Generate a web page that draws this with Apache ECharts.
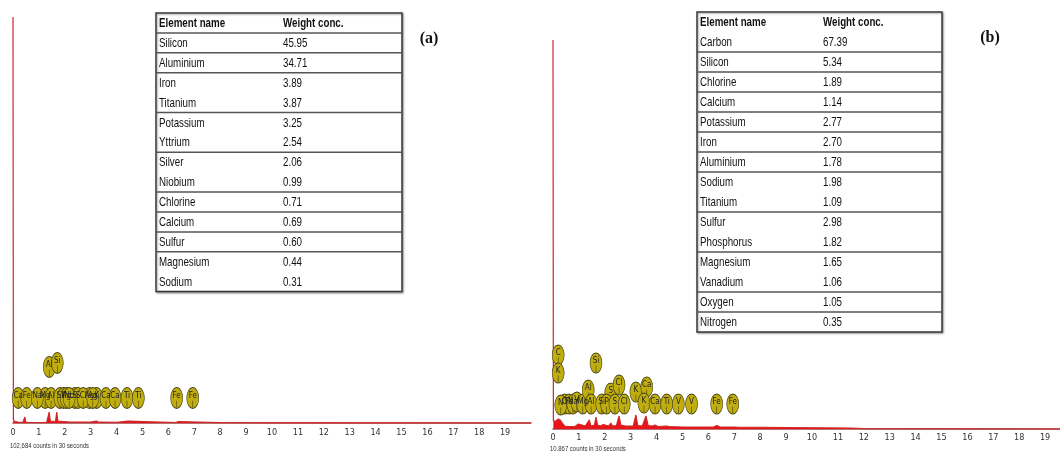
<!DOCTYPE html>
<html><head><meta charset="utf-8">
<script src="https://cdn.jsdelivr.net/npm/echarts@6/dist/echarts.min.js"></script>
<style>html,body{margin:0;padding:0;background:#fff}#c{width:1060px;height:451px}</style>
</head><body><div id="c"></div>
<script>
// ---------- DATA ----------
const energyTicks = [0,1,2,3,4,5,6,7,8,9,10,11,12,13,14,15,16,17,18,19];

// Spectrum (a): [keV, intensity]
const spectrumA = [[0,406],[0.015,4],[0.05,1.5],[0.2,1],[0.38,0.5],[0.43,1],[0.46,6],[0.49,1],[0.6,0.5],[1.0,0.5],[1.3,0.5],[1.36,2],[1.4,11],[1.44,2],[1.5,1.5],[1.64,1.5],[1.69,11],[1.73,2],[1.8,1],[2.2,0.8],[3.0,0.8],[3.22,2],[3.3,0.8],[4.0,0.6],[4.44,1.8],[4.5,0.6],[6.3,0.5],[6.38,1.5],[6.45,0.5],[8,0.3],[12,0.2],[20,0]];
// Spectrum (b)
const spectrumB = [[0,389],[0.015,8],[0.06,6],[0.12,8],[0.2,10],[0.28,9],[0.36,6],[0.45,3],[0.6,2.5],[0.85,2.5],[0.98,5],[1.05,3],[1.25,3],[1.4,9],[1.46,3],[1.6,4],[1.66,12],[1.72,4],[1.85,3],[1.94,4.5],[2.0,3],[2.15,3],[2.23,6],[2.3,3],[2.45,3.5],[2.55,13],[2.62,4],[2.8,3],[2.87,4.5],[2.95,3],[3.1,3],[3.2,14],[3.27,3.5],[3.45,3],[3.59,13],[3.67,3.5],[3.85,3],[3.94,4],[4.05,2.5],[4.39,3],[4.5,2.5],[5.0,2],[6.2,2],[6.32,3.5],[6.45,2],[6.9,2],[6.95,2.5],[7.1,1.8],[9,1.5],[11.5,1],[12,0.3],[19.6,0]];

// Element markers: [keV, level, label]
const markersA = [[0.2,25,'Ca'],[0.53,25,'Fe'],[1.24,25,'Mg'],[0.94,25,'Na'],[1.47,25,'Al'],[1.81,25,'Si'],[1.95,25,'Y'],[2.06,25,'Ag'],[2.39,25,'S'],[2.51,25,'S'],[2.17,25,'Nb'],[2.95,25,'Ag'],[3.23,25,'K'],[2.71,25,'Cl'],[3.08,25,'Ag'],[3.59,25,'Ca'],[3.94,25,'Ca'],[4.40,25,'Ti'],[4.84,25,'Ti'],[6.32,25,'Fe'],[6.94,25,'Fe'],[1.40,56,'Al'],[1.71,60,'Si']];
const markersB = [[0.2,74,'C'],[0.2,56,'K'],[0.46,25,'O'],[0.62,25,'Fe'],[0.77,25,'Na'],[0.30,24,'N'],[0.92,27,'V'],[1.15,25,'Mg'],[1.36,39,'Al'],[1.47,25,'Al'],[1.66,66,'Si'],[2.23,36,'S'],[1.88,25,'Si'],[2.07,25,'P'],[2.39,25,'S'],[2.55,44,'Cl'],[2.75,25,'Cl'],[3.2,37,'K'],[3.62,42,'Ca'],[3.51,26,'K'],[3.94,25,'Ca'],[4.39,25,'Ti'],[4.84,25,'V'],[5.35,25,'V'],[6.32,25,'Fe'],[6.94,25,'Fe']];

// Tables
const headerNames = ['Element name','Weight conc.'];
const tableAElements = ['Silicon','Aluminium','Iron','Titanium','Potassium','Yttrium','Silver','Niobium','Chlorine','Calcium','Sulfur','Magnesium','Sodium'];
const tableAValues = ['45.95','34.71','3.89','3.87','3.25','2.54','2.06','0.99','0.71','0.69','0.60','0.44','0.31'];
const tableALinesAfter = [0,1,2,4,6,8,9,10,11];
const tableBElements = ['Carbon','Silicon','Chlorine','Calcium','Potassium','Iron','Aluminium','Sodium','Titanium','Sulfur','Phosphorus','Magnesium','Vanadium','Oxygen','Nitrogen'];
const tableBValues = ['67.39','5.34','1.89','1.14','2.77','2.70','1.78','1.98','1.09','2.98','1.82','1.65','1.06','1.05','0.35'];
const tableBLinesAfter = [1,2,3,4,5,6,7,9,11,13,14];

const countsA = '102,684 counts in 30 seconds';
const countsB = '10,867 counts in 30 seconds';

// ---------- CHART ----------
const FONT = "'Liberation Sans Narrow','DejaVu Sans Condensed',sans-serif";
const TFONT = "'Liberation Sans',Arial,sans-serif";
const chart = echarts.init(document.getElementById('c'), null, {renderer:'canvas'});

const markerPath = 'path://M6,0 C9.31,0 12,4.48 12,10 C12,15.52 9.31,20 6,20 C2.69,20 0,15.52 0,10 C0,4.48 2.69,0 6,0 Z M6,12.5 L6,19';

function xAxisCfg(gridIndex, margin){
  return {
    type:'value', gridIndex, min:0, max:20, interval:1,
    axisLine:{show:true, lineStyle:{color:'#9a4a4a', width:1.5}},
    axisTick:{show:false}, splitLine:{show:false},
    axisLabel:{margin, fontSize:9, color:'#333', fontFamily:FONT,
      formatter:v => energyTicks.indexOf(v) >= 0 ? String(v) : ''}
  };
}
function spectrumSeries(idx, data){
  return {type:'line', xAxisIndex:idx, yAxisIndex:idx, data, showSymbol:false, clip:false, z:3,
    lineStyle:{color:'#d02828', width:1.2}, areaStyle:{color:'#e8141a', opacity:1}, silent:true};
}
function markerSeries(idx, data, size){
  return {type:'scatter', xAxisIndex:idx, yAxisIndex:idx, z:4,
    data: data.map(d => ({value:[d[0], d[1]], name:d[2]})),
    symbol: markerPath, symbolSize:size,
    itemStyle:{color:'#bfae0e', borderColor:'#4a4418', borderWidth:0.8, opacity:1},
    label:{show:true, position:'inside', offset:[0,-2.5], formatter:'{b}', fontSize:8, color:'#222', fontFamily:FONT},
    silent:true};
}
function buildTable(x0, top, width, rowH, col2, names, values, linesAfter){
  const rows = [headerNames].concat(names.map((n,i)=>[n, values[i]]));
  const h = rows.length * rowH;
  const els = [];
  els.push({type:'rect', shape:{x:x0, y:top, width, height:h},
    style:{fill:'#fff', stroke:'#3a3a3a', lineWidth:1.5, shadowBlur:2, shadowOffsetX:1, shadowOffsetY:1, shadowColor:'rgba(0,0,0,0.35)'}, z:10});
  linesAfter.forEach(r => {
    const y = top + (r+1)*rowH;
    els.push({type:'line', shape:{x1:x0, y1:y, x2:x0+width, y2:y}, style:{stroke:'#555', lineWidth:1.5}, z:11});
  });
  rows.forEach((r,i) => {
    const cy = top + i*rowH + rowH/2 + 0.5;
    const bold = i === 0;
    [[x0+3, r[0]], [col2, r[1]]].forEach(c => {
      els.push({type:'text', x:c[0], y:cy, scaleX:0.75, style:{text:c[1], fontSize:13, fontFamily:TFONT, fontWeight:bold?'bold':'normal', fill:'#111', verticalAlign:'middle', align:'left'}, z:12});
    });
  });
  return els;
}

const graphics = []
  .concat(buildTable(156, 13, 246, 19.9, 283, tableAElements, tableAValues, tableALinesAfter))
  .concat(buildTable(697, 12, 245, 20, 823, tableBElements, tableBValues, tableBLinesAfter))
  .concat([
    {type:'text', x:429, y:39, style:{text:'(a)', fontSize:16, fontWeight:'bold', fontFamily:"'Liberation Serif',serif", fill:'#111', align:'center', verticalAlign:'middle'}, z:12},
    {type:'text', x:990, y:38, style:{text:'(b)', fontSize:16, fontWeight:'bold', fontFamily:"'Liberation Serif',serif", fill:'#111', align:'center', verticalAlign:'middle'}, z:12},
    {type:'text', x:10, y:446, scaleX:0.85, style:{text:countsA, fontSize:7, fontFamily:TFONT, fill:'#333', verticalAlign:'middle'}, z:12},
    {type:'text', x:550, y:449, scaleX:0.85, style:{text:countsB, fontSize:7, fontFamily:TFONT, fill:'#333', verticalAlign:'middle'}, z:12}
  ]);

chart.setOption({
  animation:false,
  backgroundColor:'#fff',
  grid:[
    {left:13, right:529, top:10, bottom:28, outerBoundsMode:'none', containLabel:false},
    {left:553, right:-11, top:10, bottom:22, outerBoundsMode:'none', containLabel:false}
  ],
  xAxis:[xAxisCfg(0,5), xAxisCfg(1,4)],
  yAxis:[
    {type:'value', gridIndex:0, min:0, max:413, show:false},
    {type:'value', gridIndex:1, min:0, max:419, show:false}
  ],
  series:[spectrumSeries(0, spectrumA), spectrumSeries(1, spectrumB), markerSeries(0, markersA, [12,21]), markerSeries(1, markersB, [12,20])],
  graphic: graphics
});
</script></body></html>
